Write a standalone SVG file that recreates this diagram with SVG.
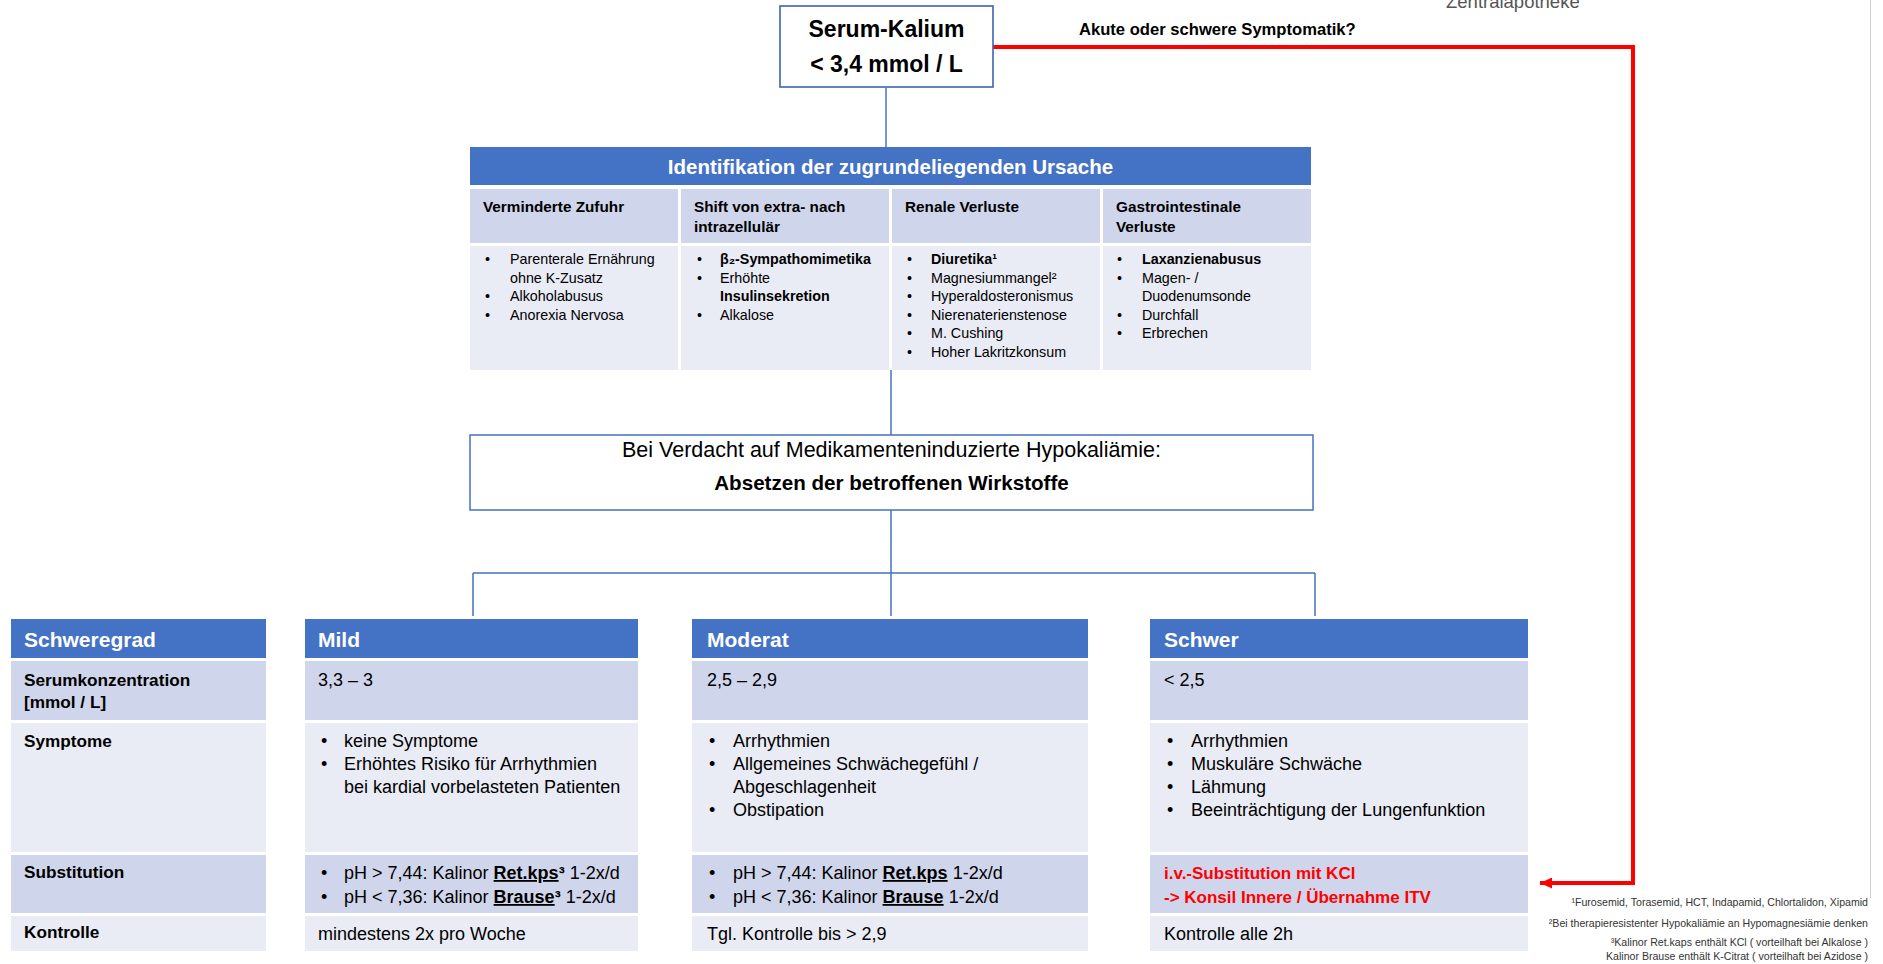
<svg xmlns="http://www.w3.org/2000/svg" width="1883" height="964" viewBox="0 0 1883 964">
<style>
text{font-family:"Liberation Sans",Arial,sans-serif;fill:#000}
.b{font-weight:bold}
.hdr{fill:#4472C4}
.dk{fill:#CFD5EA}
.lt{fill:#E9EBF5}
.wt{fill:#fff}
.ch{font-size:15.3px;font-weight:bold}
.cb{font-size:14.3px}
.lb{font-size:17.2px;font-weight:bold}
.tx{font-size:18px}
.th{font-size:21px;font-weight:bold;fill:#fff}
.fn{font-size:10.6px;fill:#333;text-anchor:end}
.red{fill:#FF0000;font-weight:bold;font-size:17px}
.u{text-decoration:underline;font-weight:bold}
.conn{stroke:#4472C4;stroke-width:1.5;fill:none}
</style>
<defs>
<marker id="ah" markerUnits="userSpaceOnUse" markerWidth="13" markerHeight="11" refX="12" refY="5.5" orient="auto">
<path d="M0,0 L12,5.5 L0,11 z" fill="#FF0000"/>
</marker>
</defs>
<rect width="1883" height="964" fill="#fff"/>
<line x1="1870.5" y1="0" x2="1870.5" y2="898" stroke="#cfcfcf" stroke-width="1"/>
<text x="1446" y="8" font-size="18.5" style="fill:#555">Zentralapotheke</text>

<g id="connectors">
<path class="conn" d="M886,88 V147"/>
<path class="conn" d="M891,370 V435"/>
<path class="conn" d="M891,510 V616 M473,573 H1315 M473,573 V616 M1315,573 V616"/>
<path d="M993,47 H1633 V883 H1540" stroke="#FF0000" stroke-width="4" fill="none" marker-end="url(#ah)"/>
<text x="1079" y="35" class="b" font-size="16.6">Akute oder schwere Symptomatik?</text>
</g>

<g id="serum">
<rect x="780" y="6" width="213" height="81" fill="#fff" stroke="#3B64AD" stroke-width="1.6"/>
<text x="886.5" y="37" class="b" font-size="23" text-anchor="middle">Serum-Kalium</text>
<text x="886.5" y="72" class="b" font-size="23" text-anchor="middle">&lt; 3,4 mmol / L</text>
</g>

<g id="ursache">
<rect class="hdr" x="470" y="147" width="841" height="38"/>
<text x="890.5" y="174" class="b" font-size="20.5" text-anchor="middle" style="fill:#fff">Identifikation der zugrundeliegenden Ursache</text>
<rect class="dk" x="470" y="189" width="208" height="54"/>
<rect class="dk" x="681" y="189" width="208" height="54"/>
<rect class="dk" x="892" y="189" width="208" height="54"/>
<rect class="dk" x="1103" y="189" width="208" height="54"/>
<rect class="lt" x="470" y="246" width="208" height="124"/>
<rect class="lt" x="681" y="246" width="208" height="124"/>
<rect class="lt" x="892" y="246" width="208" height="124"/>
<rect class="lt" x="1103" y="246" width="208" height="124"/>
<text x="483" y="212" class="ch">Verminderte Zufuhr</text>
<text x="694" y="212" class="ch">Shift von extra- nach</text>
<text x="694" y="232" class="ch">intrazellulär</text>
<text x="905" y="212" class="ch">Renale Verluste</text>
<text x="1116" y="212" class="ch">Gastrointestinale</text>
<text x="1116" y="232" class="ch">Verluste</text>
<g class="cb">
<text x="485" y="264" class="cb">•</text><text x="510" y="264" class="cb">Parenterale Ernährung</text>
<text x="510" y="282.5" class="cb">ohne K-Zusatz</text>
<text x="485" y="301" class="cb">•</text><text x="510" y="301" class="cb">Alkoholabusus</text>
<text x="485" y="319.5" class="cb">•</text><text x="510" y="319.5" class="cb">Anorexia Nervosa</text>

<text x="697" y="264" class="cb">•</text><text x="720" y="264" class="cb b">β₂-Sympathomimetika</text>
<text x="697" y="282.5" class="cb">•</text><text x="720" y="282.5" class="cb">Erhöhte</text>
<text x="720" y="301" class="cb b">Insulinsekretion</text>
<text x="697" y="319.5" class="cb">•</text><text x="720" y="319.5" class="cb">Alkalose</text>

<text x="907" y="264" class="cb">•</text><text x="931" y="264" class="cb b">Diuretika¹</text>
<text x="907" y="282.5" class="cb">•</text><text x="931" y="282.5" class="cb">Magnesiummangel²</text>
<text x="907" y="301" class="cb">•</text><text x="931" y="301" class="cb">Hyperaldosteronismus</text>
<text x="907" y="319.5" class="cb">•</text><text x="931" y="319.5" class="cb">Nierenaterienstenose</text>
<text x="907" y="338" class="cb">•</text><text x="931" y="338" class="cb">M. Cushing</text>
<text x="907" y="356.5" class="cb">•</text><text x="931" y="356.5" class="cb">Hoher Lakritzkonsum</text>

<text x="1117" y="264" class="cb">•</text><text x="1142" y="264" class="cb b">Laxanzienabusus</text>
<text x="1117" y="282.5" class="cb">•</text><text x="1142" y="282.5" class="cb">Magen- /</text>
<text x="1142" y="301" class="cb">Duodenumsonde</text>
<text x="1117" y="319.5" class="cb">•</text><text x="1142" y="319.5" class="cb">Durchfall</text>
<text x="1117" y="338" class="cb">•</text><text x="1142" y="338" class="cb">Erbrechen</text>
</g>
</g>

<g id="verdacht">
<rect x="470" y="435" width="843" height="75" fill="#fff" stroke="#4472C4" stroke-width="1.5"/>
<text x="891.5" y="457" font-size="21.5" text-anchor="middle">Bei Verdacht auf Medikamenteninduzierte Hypokaliämie:</text>
<text x="891.5" y="490" class="b" font-size="20.6" text-anchor="middle">Absetzen der betroffenen Wirkstoffe</text>
</g>

<g id="schweregrad">
<rect class="hdr" x="11" y="619" width="255" height="39"/>
<rect class="dk" x="11" y="661" width="255" height="59"/>
<rect class="lt" x="11" y="723" width="255" height="129"/>
<rect class="dk" x="11" y="855" width="255" height="58"/>
<rect class="lt" x="11" y="916" width="255" height="35"/>
<text x="24" y="647" class="th">Schweregrad</text>
<text x="24" y="686" class="lb">Serumkonzentration</text>
<text x="24" y="708" class="lb">[mmol / L]</text>
<text x="24" y="747" class="lb">Symptome</text>
<text x="24" y="878" class="lb">Substitution</text>
<text x="24" y="938" class="lb">Kontrolle</text>
</g>

<g id="mild">
<rect class="hdr" x="305" y="619" width="333" height="39"/>
<rect class="dk" x="305" y="661" width="333" height="59"/>
<rect class="lt" x="305" y="723" width="333" height="129"/>
<rect class="dk" x="305" y="855" width="333" height="58"/>
<rect class="lt" x="305" y="916" width="333" height="35"/>
<text x="318" y="647" class="th">Mild</text>
<text x="318" y="686" class="tx">3,3 – 3</text>
<text x="321" y="747" class="tx">•</text><text x="344" y="747" class="tx">keine Symptome</text>
<text x="321" y="770" class="tx">•</text><text x="344" y="770" class="tx">Erhöhtes Risiko für Arrhythmien</text>
<text x="344" y="793" class="tx">bei kardial vorbelasteten Patienten</text>
<text x="321" y="879" class="tx">•</text><text x="344" y="879" class="tx">pH &gt; 7,44: Kalinor <tspan class="u">Ret.kps</tspan><tspan class="b">³</tspan> 1-2x/d</text>
<text x="321" y="903" class="tx">•</text><text x="344" y="903" class="tx">pH &lt; 7,36: Kalinor <tspan class="u">Brause</tspan><tspan class="b">³</tspan> 1-2x/d</text>
<text x="318" y="940" class="tx">mindestens 2x pro Woche</text>
</g>

<g id="moderat">
<rect class="hdr" x="692" y="619" width="396" height="39"/>
<rect class="dk" x="692" y="661" width="396" height="59"/>
<rect class="lt" x="692" y="723" width="396" height="129"/>
<rect class="dk" x="692" y="855" width="396" height="58"/>
<rect class="lt" x="692" y="916" width="396" height="35"/>
<text x="707" y="647" class="th">Moderat</text>
<text x="707" y="686" class="tx">2,5 – 2,9</text>
<text x="709" y="747" class="tx">•</text><text x="733" y="747" class="tx">Arrhythmien</text>
<text x="709" y="770" class="tx">•</text><text x="733" y="770" class="tx">Allgemeines Schwächegefühl /</text>
<text x="733" y="793" class="tx">Abgeschlagenheit</text>
<text x="709" y="816" class="tx">•</text><text x="733" y="816" class="tx">Obstipation</text>
<text x="709" y="879" class="tx">•</text><text x="733" y="879" class="tx">pH &gt; 7,44: Kalinor <tspan class="u">Ret.kps</tspan> 1-2x/d</text>
<text x="709" y="903" class="tx">•</text><text x="733" y="903" class="tx">pH &lt; 7,36: Kalinor <tspan class="u">Brause</tspan> 1-2x/d</text>
<text x="707" y="940" class="tx">Tgl. Kontrolle bis &gt; 2,9</text>
</g>

<g id="schwer">
<rect class="hdr" x="1150" y="619" width="378" height="39"/>
<rect class="dk" x="1150" y="661" width="378" height="59"/>
<rect class="lt" x="1150" y="723" width="378" height="129"/>
<rect class="dk" x="1150" y="855" width="378" height="58"/>
<rect class="lt" x="1150" y="916" width="378" height="35"/>
<text x="1164" y="647" class="th">Schwer</text>
<text x="1164" y="686" class="tx">&lt; 2,5</text>
<text x="1167" y="747" class="tx">•</text><text x="1191" y="747" class="tx">Arrhythmien</text>
<text x="1167" y="770" class="tx">•</text><text x="1191" y="770" class="tx">Muskuläre Schwäche</text>
<text x="1167" y="793" class="tx">•</text><text x="1191" y="793" class="tx">Lähmung</text>
<text x="1167" y="816" class="tx">•</text><text x="1191" y="816" class="tx">Beeinträchtigung der Lungenfunktion</text>
<text x="1164" y="879" class="red">i.v.-Substitution mit KCl</text>
<text x="1164" y="903" class="red">-&gt; Konsil Innere / Übernahme ITV</text>
<text x="1164" y="940" class="tx">Kontrolle alle 2h</text>
</g>

<g id="fussnoten">
<text x="1868" y="906" class="fn">¹Furosemid, Torasemid, HCT, Indapamid, Chlortalidon, Xipamid</text>
<text x="1868" y="927" class="fn">²Bei therapieresistenter Hypokaliämie an Hypomagnesiämie denken</text>
<text x="1868" y="946" class="fn">³Kalinor Ret.kaps enthält KCl ( vorteilhaft bei Alkalose )</text>
<text x="1868" y="960" class="fn">Kalinor Brause enthält K-Citrat ( vorteilhaft bei Azidose )</text>
</g>
</svg>
